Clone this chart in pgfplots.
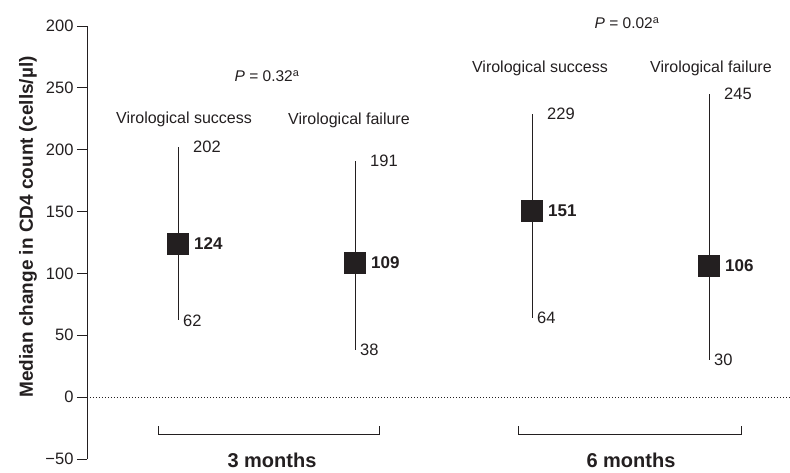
\documentclass[border=0pt]{standalone}
\usepackage{pgfplots}
\pgfplotsset{compat=1.18}
\usepackage{pgfplotstable}
\usepackage{fontspec}
\setmainfont{Liberation Sans}
\definecolor{ink}{HTML}{231F20}

\pgfplotstableread{
x med lo hi
1 124 62 202
2 109 38 191
3 151 64 229
4 106 30 245
}\datatable

\begin{document}
\begin{tikzpicture}
\useasboundingbox (-87pt,-13pt) rectangle (703pt,459pt);
\begin{axis}[
  scale only axis, width=703pt, height=433pt,
  xmin=0.4859, xmax=4.4576, ymin=-50, ymax=300,
  axis x line=none, axis y line=left,
  axis line style={-, line width=0.9pt, ink},
  ytick={-50,0,50,100,150,200,250,300},
  yticklabels={−50,0,50,100,150,200,250,200},
  tick align=outside, major tick length=10pt,
  ytick style={line width=0.9pt, ink},
  yticklabel style={font=\fontsize{16.5}{19}\selectfont, text=ink},
  ylabel={\bfseries Median change in CD4 count (cells/µl)},
  every axis y label/.style={at={(axis description cs:-0.0839,0.536)}, rotate=90, anchor=center, font=\fontsize{19}{22}\selectfont, text=ink},
  clip=false,
]
% zero reference line
\draw[ink, line width=0.8pt, dash pattern=on 1pt off 2pt] (axis cs:0.4859,0) -- (axis cs:4.4576,0);

% ranges and medians
\addplot[ink, only marks, mark=square*, mark size=10.5pt,
  mark options={fill=ink, draw=ink, line width=0.5pt},
  error bars/.cd, y dir=both, y explicit, error mark=none,
  error bar style={line width=0.9pt, ink}]
  table[x=x, y=med,
    y error plus expr=\thisrow{hi}-\thisrow{med},
    y error minus expr=\thisrow{med}-\thisrow{lo}] {\datatable};

% upper labels
\addplot[draw=none, mark=none, nodes near coords={\pgfplotspointmeta},
  point meta=explicit symbolic,
  every node near coord/.append style={anchor=west, inner sep=0pt, xshift=15pt, font=\fontsize{16.5}{19}\selectfont, text=ink}]
  table[x=x, y=hi, meta=hi] {\datatable};
% lower labels
\addplot[draw=none, mark=none, nodes near coords={\pgfplotspointmeta},
  point meta=explicit symbolic,
  every node near coord/.append style={anchor=west, inner sep=0pt, xshift=5pt, font=\fontsize{16.5}{19}\selectfont, text=ink}]
  table[x=x, y=lo, meta=lo] {\datatable};
% median labels
\addplot[draw=none, mark=none, nodes near coords={\pgfplotspointmeta},
  point meta=explicit symbolic,
  every node near coord/.append style={anchor=west, inner sep=0pt, xshift=16pt, font=\fontsize{17}{20}\selectfont\bfseries, text=ink}]
  table[x=x, y=med, meta=med] {\datatable};

% group labels
\node[font=\fontsize{16}{19}\selectfont, text=ink] at (axis cs:1.034,224.8) {Virological success};
\node[font=\fontsize{16}{19}\selectfont, text=ink] at (axis cs:1.966,224) {Virological failure};
\node[font=\fontsize{16}{19}\selectfont, text=ink] at (axis cs:3.045,266) {Virological success};
\node[font=\fontsize{16}{19}\selectfont, text=ink] at (axis cs:4.011,266) {Virological failure};
\node[font=\fontsize{15.5}{19}\selectfont, text=ink] at (axis cs:1.503,259.6) {\textit{P} = 0.32\textsuperscript{a}};
\node[font=\fontsize{15.5}{19}\selectfont, text=ink] at (axis cs:3.537,302.4) {\textit{P} = 0.02\textsuperscript{a}};

% brackets
\draw[ink, line width=0.9pt] (axis cs:0.887,-23.4) -- (axis cs:0.887,-29.8) -- (axis cs:2.136,-29.8) -- (axis cs:2.136,-23.4);
\draw[ink, line width=0.9pt] (axis cs:2.921,-23.4) -- (axis cs:2.921,-29.8) -- (axis cs:4.186,-29.8) -- (axis cs:4.186,-23.4);
\node[font=\fontsize{20}{23}\selectfont\bfseries, text=ink] at (axis cs:1.531,-50.8) {3 months};
\node[font=\fontsize{20}{23}\selectfont\bfseries, text=ink] at (axis cs:3.559,-50.8) {6 months};
\end{axis}
\end{tikzpicture}
\end{document}
